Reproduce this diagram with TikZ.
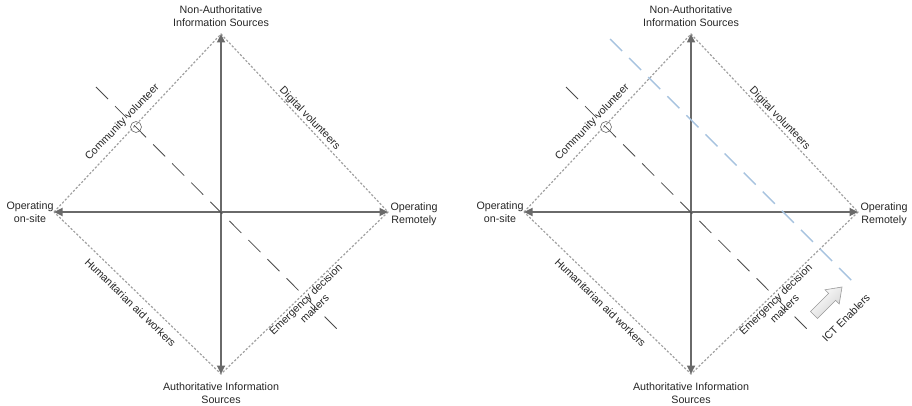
\documentclass[tikz,border=0pt]{standalone}
\usepackage{fontspec}
\setmainfont{Liberation Sans}
\usetikzlibrary{arrows.meta}
\definecolor{axisgray}{HTML}{6A6A6A}
\definecolor{dotgray}{HTML}{A0A0A0}
\definecolor{dashgray}{HTML}{4A4A4A}
\definecolor{ictblue}{HTML}{A7C3DF}
\definecolor{txt}{HTML}{262626}
\newcommand{\mypanel}[2]{%
\begin{scope}[xshift=#1, name prefix=#2-]
  \coordinate (O) at (221,212);
  \coordinate (T) at (221,34);
  \coordinate (B) at (221,374);
  \coordinate (L) at (54,212);
  \coordinate (R) at (388,212);
  \draw[edge] (L) -- (T) -- (R) -- (B) -- cycle;
  \draw[axis] (O) -- (T);
  \draw[axis] (O) -- (B);
  \draw[axis] (O) -- (L);
  \draw[axis] (O) -- (R);
  \coordinate (d1) at (96,87);
  \coordinate (d2) at (338,330);
  \draw[blackdash] (d1) -- (d2);
  \node[ring] (c) at (136,127) {};
  \node[lbl] (top) at (221,16.5) {Non-Authoritative\\Information Sources};
  \node[lbl] (bot) at (221,393) {Authoritative Information\\Sources};
  \node[lbl] (left) at (30,212.5) {Operating\\on-site};
  \node[lbl] (right) at (414,214.5) {Operating\\Remotely};
  \node[lbl, rotate=46] (cv) at (122.5,122.5) {Community volunteer};
  \node[lbl, rotate=-46] (dv) at (309.5,118.5) {Digital volunteers};
  \node[lbl, rotate=-44] (hw) at (130.5,302.5) {Humanitarian aid workers};
  \node[lbl, rotate=44] (ed) at (310,304) {Emergency decision\\makers};
\end{scope}}
\begin{document}
\begin{tikzpicture}[x=1pt,y=-1pt,
  lbl/.style={font=\fontsize{10.7}{12.8}\selectfont, text=txt, inner sep=0pt, align=center},
  axis/.style={draw=axisgray, line width=1.7pt, -{Triangle[length=8.5pt,width=8pt]}},
  edge/.style={draw=dotgray, line width=1.2pt, dash pattern=on 2.2pt off 1.8pt},
  blackdash/.style={draw=dashgray, line width=0.8pt, dash pattern=on 17pt off 10pt},
  bluedash/.style={draw=ictblue, line width=1.4pt, dash pattern=on 17pt off 10pt},
  ring/.style={circle, draw=axisgray, line width=0.6pt, minimum size=11pt, inner sep=0pt},
  ictarrow/.style={draw=gray!80, line width=0.6pt, left color=white, right color=gray!35, shading angle=45}
]
\useasboundingbox (0,0) rectangle (912,406);
\mypanel{0}{A}
\mypanel{470}{Bp}
\coordinate (b1) at (610,39);
\coordinate (b2) at (854,283);
\draw[bluedash] (b1) -- (b2);
\draw[ictarrow] (817.5,318.5) -- (835.6,300.4) -- (839.2,304) -- (842,287)
  -- (825,289.8) -- (828.6,293.4) -- (810.5,311.5) -- cycle;
\node[lbl, rotate=45] (ict) at (846,318) {ICT Enablers};
\end{tikzpicture}
\end{document}
